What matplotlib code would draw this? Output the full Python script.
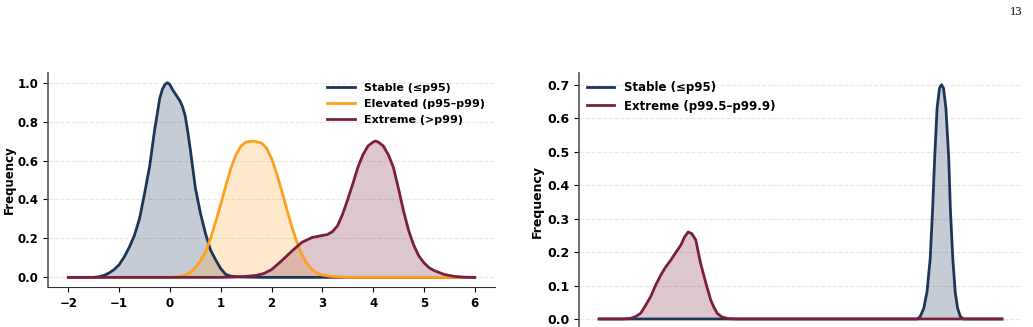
import matplotlib

matplotlib.use("Agg")
import matplotlib.pyplot as plt

# left panel: density curves (x, y)
stable_x = [-2.0, -1.5, -1.4, -1.3, -1.2, -1.1, -1.0, -0.9, -0.8, -0.7, -0.6, -0.5, -0.4, -0.3,
            -0.2, -0.15, -0.1, -0.05, 0.0, 0.05, 0.1, 0.2, 0.25, 0.3, 0.35, 0.4, 0.5, 0.6, 0.7,
            0.8, 0.9, 1.0, 1.1, 1.2, 1.4, 1.8, 6.0]
stable_y = [0.0, 0.0, 0.003, 0.01, 0.022, 0.04, 0.065, 0.105, 0.155, 0.215, 0.30, 0.43, 0.57, 0.76,
            0.92, 0.965, 0.99, 1.0, 0.99, 0.965, 0.945, 0.905, 0.875, 0.83, 0.75, 0.66, 0.46, 0.33,
            0.225, 0.14, 0.09, 0.045, 0.015, 0.006, 0.002, 0.0, 0.0]

elevated_x = [-2.0, 0.0, 0.2, 0.3, 0.4, 0.5, 0.6, 0.7, 0.8, 0.9, 1.0, 1.1, 1.2, 1.3, 1.4, 1.5,
              1.65, 1.8, 1.9, 2.0, 2.1, 2.2, 2.3, 2.4, 2.5, 2.6, 2.7, 2.8, 2.9, 3.0, 3.2, 3.5, 6.0]
elevated_y = [0.0, 0.0, 0.005, 0.012, 0.025, 0.05, 0.085, 0.13, 0.20, 0.285, 0.375, 0.47, 0.56,
              0.63, 0.675, 0.695, 0.70, 0.69, 0.665, 0.61, 0.535, 0.445, 0.35, 0.26, 0.18, 0.115,
              0.07, 0.04, 0.022, 0.012, 0.004, 0.0, 0.0]

extreme_x = [-2.0, 1.0, 1.3, 1.5, 1.7, 1.85, 2.0, 2.2, 2.4, 2.6, 2.8, 3.0, 3.1, 3.2, 3.3, 3.4,
             3.5, 3.6, 3.7, 3.8, 3.9, 4.0, 4.05, 4.1, 4.2, 4.3, 4.4, 4.5, 4.6, 4.7, 4.8, 4.9,
             5.0, 5.1, 5.2, 5.4, 5.6, 5.8, 6.0]
extreme_y = [0.0, 0.0, 0.002, 0.005, 0.01, 0.02, 0.04, 0.085, 0.135, 0.18, 0.205, 0.215, 0.22,
             0.235, 0.265, 0.325, 0.40, 0.48, 0.565, 0.63, 0.675, 0.695, 0.70, 0.695, 0.675,
             0.63, 0.565, 0.455, 0.34, 0.24, 0.165, 0.11, 0.075, 0.05, 0.035, 0.015, 0.005,
             0.001, 0.0]

# right panel (x axis not visible in the source, arbitrary units)
r_stable_x = [0.0, 7.9, 7.97, 8.06, 8.14, 8.22, 8.28, 8.33, 8.39, 8.45, 8.5, 8.55, 8.61, 8.68,
              8.72, 8.78, 8.84, 8.90, 8.97, 9.05, 10.0]
r_stable_y = [0.0, 0.0, 0.007, 0.032, 0.081, 0.181, 0.33, 0.48, 0.629, 0.69, 0.70, 0.69, 0.629,
              0.48, 0.33, 0.181, 0.081, 0.032, 0.007, 0.0, 0.0]

r_extreme_x = [0.0, 0.6, 0.79, 0.9, 1.03, 1.15, 1.28, 1.4, 1.53, 1.65, 1.78, 1.9, 2.03, 2.12,
               2.21, 2.3, 2.40, 2.46, 2.52, 2.65, 2.77, 2.85, 2.93, 3.05, 3.2, 3.4, 10.0]
r_extreme_y = [0.0, 0.0, 0.002, 0.007, 0.017, 0.04, 0.067, 0.10, 0.131, 0.155, 0.176, 0.198,
               0.221, 0.245, 0.26, 0.255, 0.236, 0.20, 0.166, 0.107, 0.057, 0.035, 0.017, 0.006,
               0.001, 0.0, 0.0]

NAVY = "#1d3658"
ORANGE = "#ff9f1c"
MAROON = "#7a1f3d"

plt.rcParams["font.family"] = ["DejaVu Sans"]

fig = plt.figure(figsize=(10.33, 3.27), dpi=100)
ax1 = fig.add_axes([0.0465, 0.122, 0.4327, 0.655])
ax2 = fig.add_axes([0.5605, -0.0113, 0.4289, 0.788])


def curve(ax, x, y, color, label, alpha):
    ax.fill_between(x, y, color=color, alpha=alpha, linewidth=0)
    ax.plot(x, y, color=color, lw=2.0, label=label, solid_joinstyle="round")


def style(ax, size):
    ax.spines["top"].set_visible(False)
    ax.spines["right"].set_visible(False)
    ax.spines["left"].set_color("#555555")
    ax.spines["left"].set_linewidth(1.2)
    ax.spines["bottom"].set_color("#333333")
    ax.grid(axis="y", linestyle="--", color="#dddddd", alpha=0.7, lw=0.8)
    ax.set_axisbelow(True)
    ax.tick_params(labelsize=size)
    for lab in ax.get_xticklabels() + ax.get_yticklabels():
        lab.set_fontweight("bold")


curve(ax1, stable_x, stable_y, NAVY, "Stable (≤p95)", 0.25)
curve(ax1, elevated_x, elevated_y, ORANGE, "Elevated (p95–p99)", 0.22)
curve(ax1, extreme_x, extreme_y, MAROON, "Extreme (>p99)", 0.25)
ax1.set_ylabel("Frequency", fontsize=8.5, fontweight="bold", labelpad=1)
ax1.set_yticks([0.0, 0.2, 0.4, 0.6, 0.8, 1.0])
style(ax1, 8.5)
ax1.legend(loc="upper right", frameon=False, handlelength=2.5,
           borderaxespad=0.5, labelspacing=0.55, prop={"weight": "bold", "size": 8})

curve(ax2, r_stable_x, r_stable_y, NAVY, "Stable (≤p95)", 0.25)
curve(ax2, r_extreme_x, r_extreme_y, MAROON, "Extreme (p99.5–p99.9)", 0.25)
ax2.set_ylabel("Frequency", fontsize=9, fontweight="bold", labelpad=2)
ax2.set_xticks([])
style(ax2, 9)
ax2.legend(loc="upper left", frameon=False, handlelength=2.3,
           borderaxespad=0.3, labelspacing=0.45, prop={"weight": "bold", "size": 8.5})

fig.text(0.990, 0.962, "13", ha="right", va="center", family="Liberation Serif",
         fontsize=9, fontweight="normal")

fig.savefig("out.png", dpi=100)
